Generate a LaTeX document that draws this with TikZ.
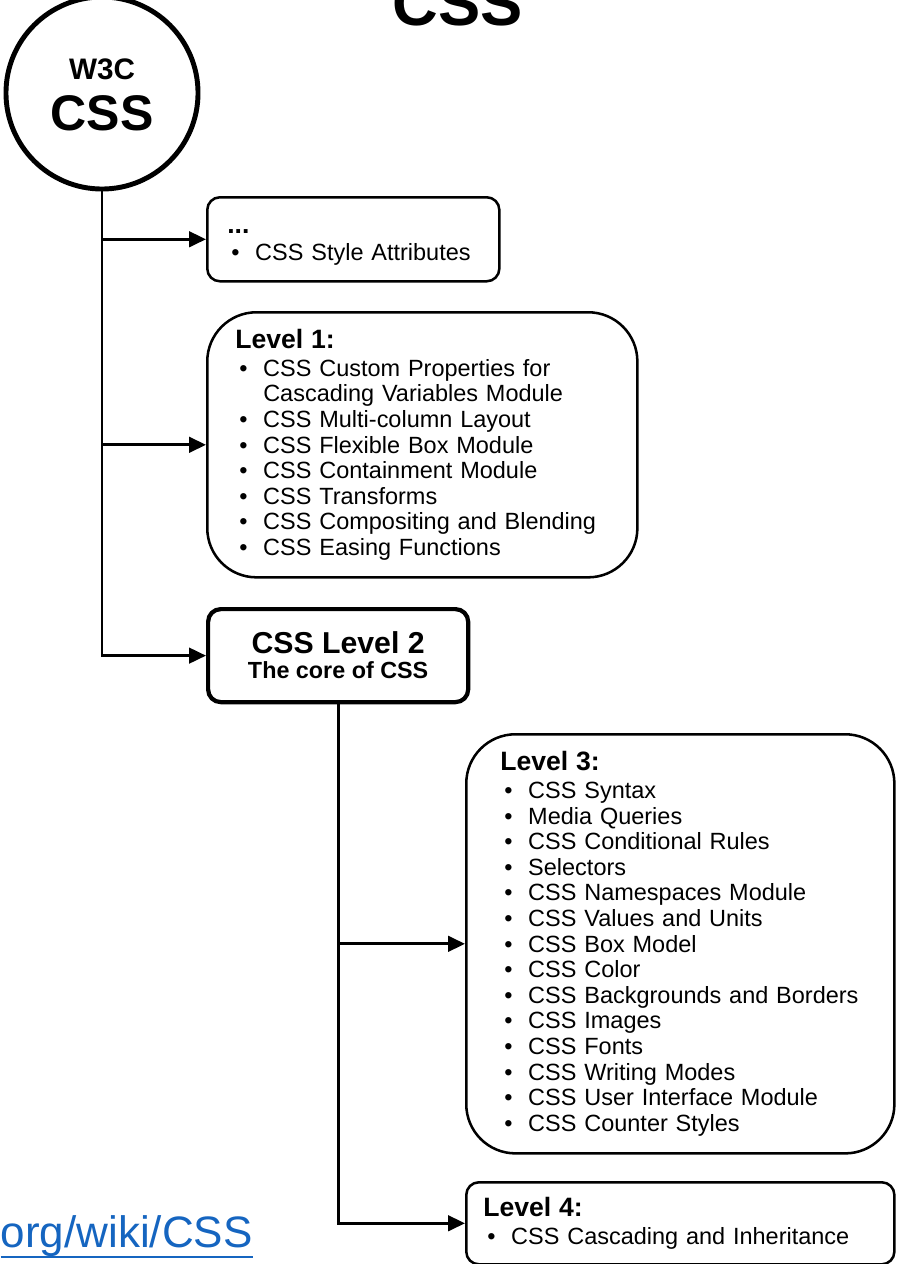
\documentclass[tikz,border=0pt]{standalone}
\usepackage{fontspec}
\setmainfont{Liberation Sans}
\usetikzlibrary{arrows.meta, positioning}

\definecolor{linkblue}{RGB}{21,101,192}

\newcommand{\boxhead}[1]{{\fontsize{18.9}{20}\selectfont\bfseries #1\par}\vspace{1.5pt}}
\newcommand{\bitem}[1]{\noindent\hangindent=19.9pt\hangafter=1\hspace*{2.85pt}\makebox[17.05pt][l]{\textbullet}#1\par}

\tikzstyle{note} = [rectangle, rounded corners=9pt, draw=black, line width=1.8pt, anchor=north west, align=left, inner ysep=0pt, font=\fontsize{16.7}{18.2}\selectfont]
\tikzstyle{bignote} = [note, rounded corners=35pt]
\tikzstyle{core} = [rectangle, rounded corners=9pt, draw=black, line width=3pt, anchor=north west, align=center, font=\bfseries]
\tikzstyle{arrow} = [line width=2pt, -{Triangle[length=12pt,width=11pt]}]

\begin{document}
\begin{tikzpicture}[x=0.025cm, y=-0.025cm]
\clip (0,0) rectangle (897,1264);

% Title (cut off by the frame)
\node[font=\fontsize{45}{50}\selectfont\bfseries, anchor=base] (title) at (458,25) {CSS};

% Root
\node[circle, draw, line width=3.5pt, minimum size=4.8cm] (w3c) at (102,93) {};
\node[font=\fontsize{21.1}{22}\selectfont\bfseries, anchor=base] (w3cText) at (102,79) {W3C};
\node[font=\fontsize{35.6}{40}\selectfont\bfseries, anchor=base] (cssText) at (102,130) {CSS};

% Column 1 - boxes hanging off the root
\node[note, minimum width=7.3cm, minimum height=2.1cm, inner xsep=0.5cm, text width=6.3cm] (dots) at (206,196) {\boxhead{\rule{0pt}{14.5pt}...}\bitem{CSS Style Attributes}};

\node[bignote, minimum width=10.75cm, minimum height=6.625cm, inner xsep=0.7cm, text width=9.35cm] (levelOne) at (206,311) {\boxhead{Level 1:}%
\bitem{CSS Custom Properties for\newline Cascading Variables Module}%
\bitem{CSS Multi-column Layout}%
\bitem{CSS Flexible Box Module}%
\bitem{CSS Containment Module}%
\bitem{CSS Transforms}%
\bitem{CSS Compositing and Blending}%
\bitem{CSS Easing Functions}};

\node[core, minimum width=6.5cm, minimum height=2.325cm] (levelTwo) at (206,607) {{\fontsize{21.5}{19}\selectfont CSS Level 2}\\[4.5pt]{\fontsize{16.6}{19}\selectfont The core of CSS}};

% Column 2 - boxes hanging off level 2
\node[bignote, minimum width=10.7cm, minimum height=10.475cm, inner xsep=0.85cm, text width=9.0cm] (levelThree) at (465,733) {\boxhead{Level 3:}%
\bitem{CSS Syntax}%
\bitem{Media Queries}%
\bitem{CSS Conditional Rules}%
\bitem{Selectors}%
\bitem{CSS Namespaces Module}%
\bitem{CSS Values and Units}%
\bitem{CSS Box Model}%
\bitem{CSS Color}%
\bitem{CSS Backgrounds and Borders}%
\bitem{CSS Images}%
\bitem{CSS Fonts}%
\bitem{CSS Writing Modes}%
\bitem{CSS User Interface Module}%
\bitem{CSS Counter Styles}};

\node[note, minimum width=10.7cm, minimum height=2.05cm, inner xsep=0.425cm, text width=9.85cm] (levelFour) at (465,1181) {\boxhead{Level 4:}\bitem{CSS Cascading and Inheritance}};

% Link (cut off by the frame)
\node[font=\fontsize{31.3}{34}\selectfont, text=linkblue, anchor=base east, inner sep=0pt] (wikiLink) at (253,1247) {org/wiki/CSS};
\draw[linkblue, line width=1.8pt] ([yshift=-7pt]wikiLink.base west) -- ([yshift=-7pt]wikiLink.base east);

% Arrows
\draw [arrow] (w3c.south) |- (levelTwo.west);
\draw [arrow] (w3c.south |- dots.west) -- (dots.west);
\draw [arrow] (w3c.south |- levelOne.west) -- (levelOne.west);
\draw [arrow] (levelTwo.south) |- (levelFour.west);
\draw [arrow] (levelTwo.south |- levelThree.west) -- (levelThree.west);

\end{tikzpicture}
\end{document}
